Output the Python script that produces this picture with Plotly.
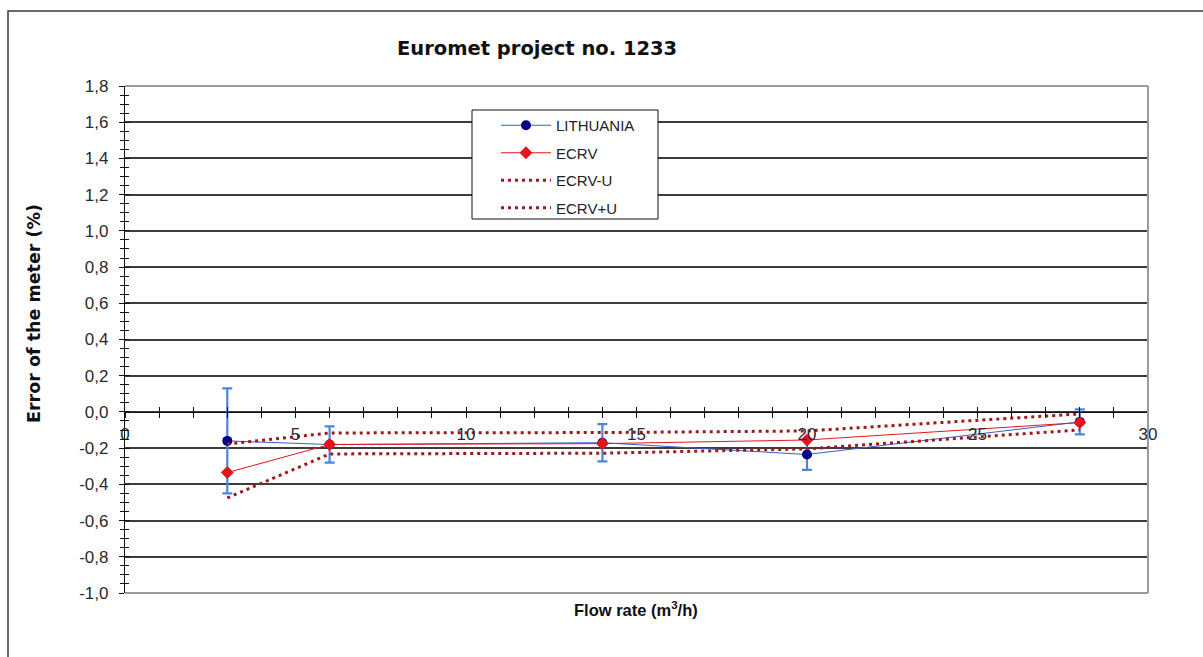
import plotly.graph_objects as go

# Flow rates (m3/h) and meter errors (%)
flow = [3, 6, 14, 20, 28]
lithuania = [-0.16, -0.18, -0.17, -0.235, -0.055]
lithuania_u = [0.29, 0.10, 0.103, 0.085, 0.069]
ecrv = [-0.335, -0.18, -0.175, -0.155, -0.059]
ecrv_minus_u = [-0.475, -0.232, -0.228, -0.204, -0.099]
ecrv_plus_u = [-0.177, -0.116, -0.114, -0.105, -0.011]

y_ticks = [-1.0, -0.8, -0.6, -0.4, -0.2, 0.0, 0.2, 0.4, 0.6, 0.8, 1.0, 1.2, 1.4, 1.6, 1.8]
y_labels = [f"{v:.1f}".replace(".", ",") for v in y_ticks]
x_ticks = [0, 5, 10, 15, 20, 25, 30]
x_labels = [str(v) for v in x_ticks]

Y_MIN, Y_MAX = -1.0, 1.8
X_MIN, X_MAX = 0, 30

# plot-area geometry (pixels)
W, H = 1203, 657
L, R, T, B = 125, 55, 86, 64
PW, PH = W - L - R, H - T - B


def px_x(p):
    return (p - L) / PW


def px_y(p):
    return (H - B - p) / PH


zero_pos = (0 - Y_MIN) / (Y_MAX - Y_MIN)
dot_dash = "3px,4px"

ARIAL = "Liberation Sans, Arial, sans-serif"
WIDE = "DejaVu Sans, Verdana, sans-serif"

fig = go.Figure()

fig.add_trace(go.Scatter(
    x=flow, y=lithuania, name="LITHUANIA", mode="lines+markers",
    line=dict(color="#3b5bd0", width=1),
    marker=dict(color="#000080", size=10, symbol="circle"),
    error_y=dict(type="data", array=lithuania_u, visible=True,
                 color="#4a86e0", thickness=2.2, width=5),
    legendgroup="a",
))
fig.add_trace(go.Scatter(
    x=flow, y=ecrv, name="ECRV", mode="lines+markers",
    line=dict(color="#e8141c", width=1),
    marker=dict(color="#e8141c", size=10, symbol="diamond"),
    legendgroup="b",
))
fig.add_trace(go.Scatter(
    x=flow, y=ecrv_minus_u, name="ECRV-U", mode="lines",
    line=dict(color="#9e1a1a", width=3, dash=dot_dash),
    legendgroup="c",
))
fig.add_trace(go.Scatter(
    x=flow, y=ecrv_plus_u, name="ECRV+U", mode="lines",
    line=dict(color="#9e1a1a", width=3, dash=dot_dash),
    legendgroup="d",
))

tick_font = dict(family=ARIAL, size=17, color="#2a2a2a")

fig.update_layout(
    width=W, height=H,
    margin=dict(l=L, r=R, t=T, b=B),
    paper_bgcolor="white", plot_bgcolor="white",
    showlegend=True,
    legend=dict(
        x=px_x(496), y=px_y(109), xanchor="left", yanchor="top",
        bgcolor="rgba(0,0,0,0)", borderwidth=0,
        font=dict(family=ARIAL, size=15, color="#222"),
        itemwidth=50, tracegroupgap=5,
    ),
    xaxis=dict(
        range=[X_MIN, X_MAX], anchor="free", position=zero_pos,
        tickvals=x_ticks, ticktext=x_labels, tickfont=tick_font,
        ticks="outside", ticklen=5, tickwidth=1, tickcolor="#111",
        minor=dict(dtick=1, ticks="outside", ticklen=5, tickcolor="#111", showgrid=False),
        showline=True, linecolor="#111", linewidth=1.2,
        showgrid=False, zeroline=False, ticklabelstandoff=2,
    ),
    xaxis2=dict(
        range=[X_MIN, X_MAX], anchor="free", position=zero_pos, overlaying="x",
        tickvals=x_ticks, showticklabels=False,
        ticks="inside", ticklen=5, tickwidth=1, tickcolor="#111",
        minor=dict(dtick=1, ticks="inside", ticklen=5, tickcolor="#111", showgrid=False),
        showline=False, showgrid=False, zeroline=False,
    ),
    yaxis=dict(
        range=[Y_MIN, Y_MAX], tickvals=y_ticks, ticktext=y_labels, tickfont=tick_font,
        ticks="outside", ticklen=5, tickwidth=1, tickcolor="#111",
        minor=dict(dtick=0.05, ticks="outside", ticklen=4, tickcolor="#111", showgrid=False),
        showline=True, linecolor="#111", linewidth=1.2,
        showgrid=True, gridcolor="#3c3c3c", gridwidth=1.5,
        zeroline=False, ticklabelstandoff=7,
    ),
    yaxis2=dict(
        range=[Y_MIN, Y_MAX], overlaying="y", anchor="x",
        tickvals=y_ticks, showticklabels=False,
        ticks="inside", ticklen=5, tickwidth=1, tickcolor="#111",
        minor=dict(dtick=0.05, ticks="inside", ticklen=4, tickcolor="#111", showgrid=False),
        showline=False, showgrid=False, zeroline=False,
    ),
)

# empty trace on the overlay axes so their inner ticks are rendered
fig.add_trace(go.Scatter(x=[None], y=[None], xaxis="x2", yaxis="y2",
                         showlegend=False, hoverinfo="skip"))

shapes = [
    # plot-area border (top, right, bottom)
    dict(type="line", xref="paper", yref="paper", x0=0, x1=1, y0=1, y1=1,
         line=dict(color="#9a9a9a", width=2)),
    dict(type="line", xref="paper", yref="paper", x0=1, x1=1, y0=0, y1=1,
         line=dict(color="#9a9a9a", width=2)),
    dict(type="line", xref="paper", yref="paper", x0=0, x1=1, y0=0, y1=0,
         line=dict(color="#9a9a9a", width=2)),
    # legend frame
    dict(type="rect", xref="paper", yref="paper",
         x0=px_x(472), x1=px_x(658), y0=px_y(219), y1=px_y(110),
         line=dict(color="#111", width=1), fillcolor="white", layer="above"),
    # outer chart frame
    dict(type="rect", xref="paper", yref="paper",
         x0=px_x(8), x1=px_x(1260), y0=px_y(700), y1=px_y(11),
         line=dict(color="#3a3a3a", width=1.5), fillcolor="rgba(0,0,0,0)"),
]
fig.update_layout(shapes=shapes)

annotations = [
    dict(text="<b>Euromet project no. 1233</b>", xref="paper", yref="paper",
         x=px_x(537), y=px_y(48), showarrow=False, xanchor="center", yanchor="middle",
         font=dict(family=WIDE, size=19.5, color="#111")),
    dict(text="<b>Error of the meter (%)</b>", xref="paper", yref="paper",
         x=px_x(34), y=px_y(314), showarrow=False, textangle=-90,
         xanchor="center", yanchor="middle",
         font=dict(family=WIDE, size=17.5, color="#111")),
    dict(text="<b>Flow rate (m<sup>3</sup>/h)</b>", xref="paper", yref="paper",
         x=px_x(636), y=px_y(609), showarrow=False, xanchor="center", yanchor="middle",
         font=dict(family=ARIAL, size=16.5, color="#111")),
]
fig.update_layout(annotations=annotations)

fig.write_html("out.html")
